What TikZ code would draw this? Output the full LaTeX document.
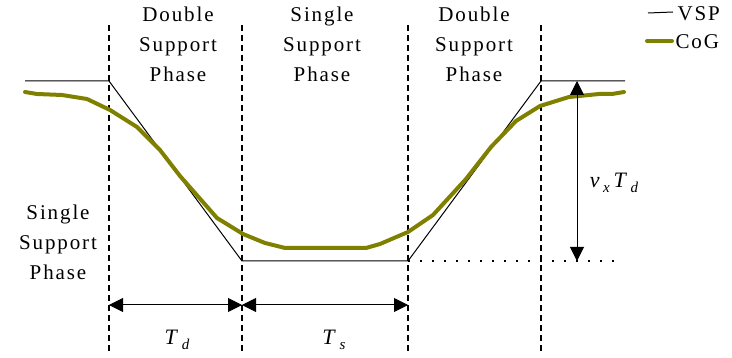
\documentclass[tikz,border=0pt]{standalone}
\usepackage{fontspec}
\setmainfont{Liberation Serif}
\newfontfamily\phasefont[LetterSpace=9]{Liberation Serif}
\usetikzlibrary{arrows.meta}
\definecolor{cogcolor}{RGB}{128,128,0}
\tikzset{
  phase/.style={font=\phasefont\fontsize{21}{30}\selectfont, align=center},
  sym/.style={font=\fontsize{22}{24}\selectfont},
  divider/.style={line width=1.1pt, dash pattern=on 6pt off 4pt},
  vsp/.style={line width=1pt},
  cog/.style={cogcolor, line width=4pt, line cap=round, line join=round},
  dim/.style={line width=1pt, {Triangle[length=14pt,width=14pt]}-{Triangle[length=14pt,width=14pt]}}
}
\newcommand{\subx}[1]{\raisebox{-5pt}{\fontsize{15}{15}\selectfont\textit{#1}}}
\begin{document}
\begin{tikzpicture}[x=1pt,y=-1pt]
  \useasboundingbox (0,0) rectangle (732,358);
  % phase borders
  \foreach \name/\x in {b1/109, b2/242, b3/408, b4/541} {
    \coordinate (\name top) at (\x,25);
    \coordinate (\name bot) at (\x,352);
    \draw[divider] (\name top) -- (\name bot);
  }
  % phase labels
  \node[phase] (dsp1) at (178,44) {Double\\Support\\Phase};
  \node[phase] (ssp1) at (322,44) {Single\\Support\\Phase};
  \node[phase] (dsp2) at (474,44) {Double\\Support\\Phase};
  \node[phase] (ssp0) at (58,242) {Single\\Support\\Phase};
  % VSP
  \coordinate (v0) at (25,81);
  \coordinate (v1) at (109,81);
  \coordinate (v2) at (242,261);
  \coordinate (v3) at (408,261);
  \coordinate (v4) at (541,81);
  \coordinate (v5) at (625,81);
  \draw[vsp] (v0) -- (v1) -- (v2) -- (v3) -- (v4) -- (v5);
  \coordinate (dotend) at (615,261);
  \draw[line width=1.3pt, dash pattern=on 1.5pt off 10.5pt] (v3) -- (dotend);
  % CoG
  \draw[cog] (25,92) -- (37,94) -- (62,95) -- (87,99) -- (110,110)
    -- (137,127) -- (160,150) -- (180,176) -- (217,218) -- (243,234)
    -- (265,243) -- (285,248) -- (366,248) -- (380,244) -- (408,232)
    -- (433,215) -- (466,179) -- (491,147) -- (516,121) -- (540,106)
    -- (569,97) -- (599,94) -- (612,94) -- (624,92);
  % dimensions
  \coordinate (h) at (577,81);
  \coordinate (l) at (577,261);
  \draw[dim] (h) -- (l);
  \node[sym] (vxtd) at (614,183) {\textit{v}\,\subx{x}\,\textit{T}\,\subx{d}};
  \coordinate (td0) at (109,305);
  \coordinate (td1) at (242,305);
  \coordinate (ts1) at (408,305);
  \draw[dim] (td0) -- (td1);
  \draw[dim] (td1) -- (ts1);
  \node[sym] (td) at (177,340) {\textit{T}\,\subx{d}};
  \node[sym] (ts) at (334,340) {\textit{T}\,\subx{s}};
  % legend
  \coordinate (leg1a) at (648,13);
  \coordinate (leg1b) at (673,12);
  \draw[vsp] (leg1a) -- (leg1b);
  \node[phase, anchor=west] (vspl) at (674,14) {VSP};
  \coordinate (leg2a) at (647,41);
  \coordinate (leg2b) at (672,41);
  \draw[cog] (leg2a) -- (leg2b);
  \node[phase, anchor=west] (cogl) at (672,42) {CoG};
\end{tikzpicture}
\end{document}
